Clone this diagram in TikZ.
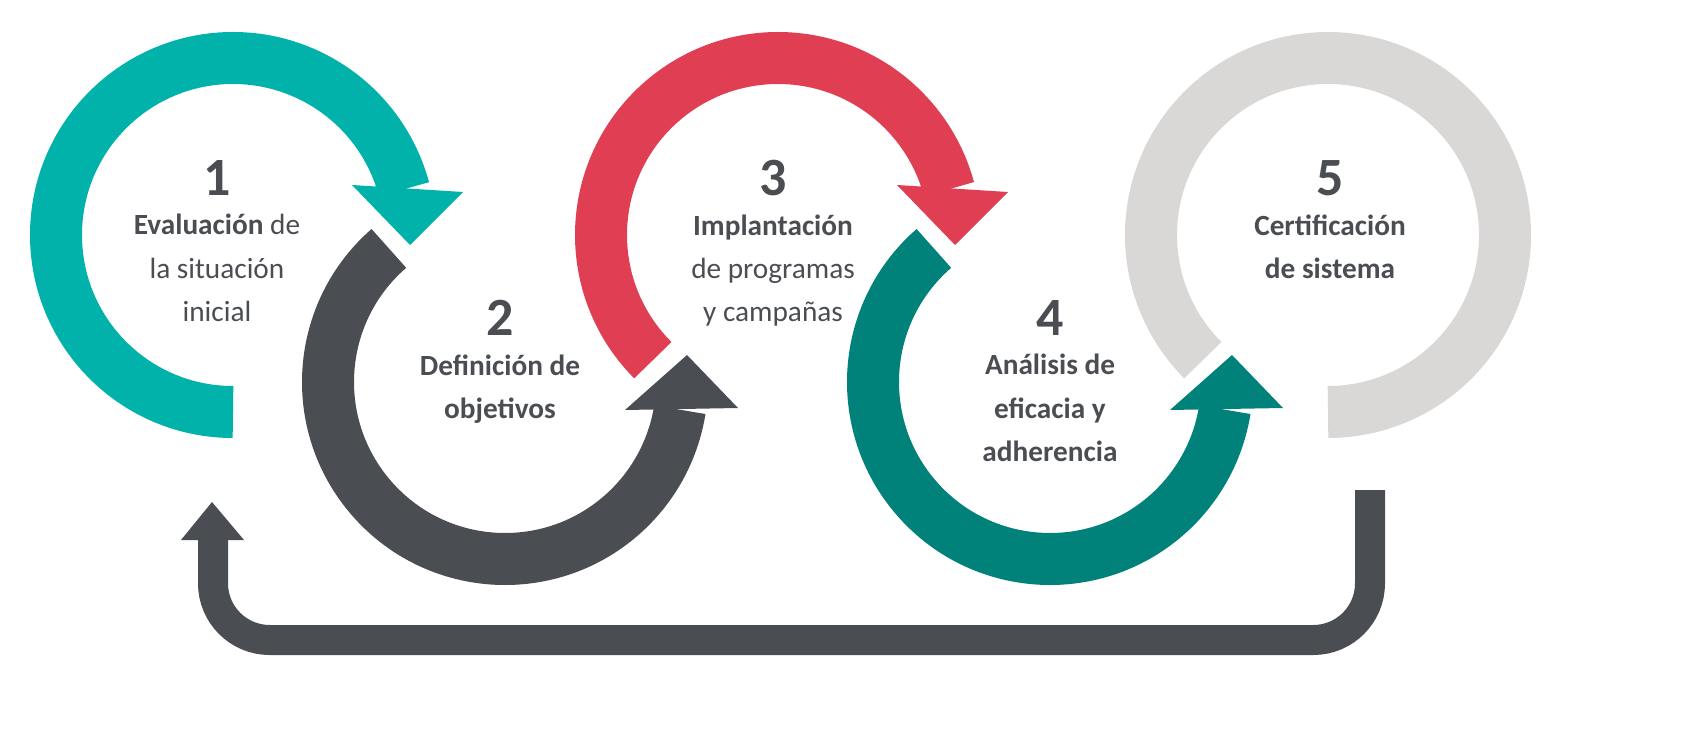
\documentclass[tikz,border=0pt]{standalone}
\usepackage{fontspec}
\setmainfont{Carlito}
\usetikzlibrary{positioning}
\definecolor{tealcolor}{HTML}{00B2A9}
\definecolor{darkcolor}{HTML}{4A4D52}
\definecolor{redcolor}{HTML}{E03E52}
\definecolor{greencolor}{HTML}{00827A}
\definecolor{lightcolor}{HTML}{D9D8D6}
\definecolor{textcolor}{HTML}{4A4D52}

\begin{document}
\begin{tikzpicture}[
	x=0.03cm, y=0.03cm,
	ring/.style={line width=1.56cm, line cap=butt},
	number/.style={text=textcolor, font=\fontsize{46}{50}\selectfont\bfseries, inner sep=0pt},
	steptext/.style={text=textcolor, font=\fontsize{25}{37}\selectfont, align=center, inner sep=0pt},
	boldtext/.style={steptext, font=\fontsize{25}{37}\selectfont\bfseries},
	node distance=0.55cm,
]
\useasboundingbox (0,0) rectangle (1699,744);
% #1 colour, #2 centre, #3 start angle, #4 end angle.
\def\ringarc#1(#2)#3#4{
	\draw[ring, #1] (#2) ++(#3:177) arc[start angle=#3, end angle=#4, radius=177];
}
% #1 colour, three corners of the head.
\def\arrowhead#1(#2)(#3)(#4){
	\fill[#1] (#2) -- (#3) -- (#4) -- cycle;
}
	\ringarc{tealcolor}(233,509){270}{15}
	\arrowhead{tealcolor}(352,559)(463,552)(410,499)
	\ringarc{darkcolor}(505,362){131}{351}
	\arrowhead{darkcolor}(625,334)(738,336)(687,389)
	\ringarc{redcolor}(778,509){225}{15}
	\arrowhead{redcolor}(897,559)(1008,552)(955,499)
	\ringarc{greencolor}(1050,362){131}{351}
	\arrowhead{greencolor}(1170,334)(1283,336)(1232,389)
	\ringarc{lightcolor}(1328,509){225}{-90}

	% return line
	\coordinate (retA) at (1370,254);
	\coordinate (retB) at (213,204);
	\draw[darkcolor, line width=0.9cm, rounded corners=1.7cm]
		(retA) -- (1370,104) -- (213,104) -- (retB);
	\arrowhead{darkcolor}(181,204)(244,204)(212,242)

	\node[number] (n1) at (217,566) {1};
	\node[steptext, below=of n1] (t1) {\textbf{Evaluación} de\\la situación\\inicial};
	\node[number] (n2) at (500,426) {2};
	\node[boldtext, below=of n2] (t2) {Definición de\\objetivos};
	\node[number] (n3) at (773,566) {3};
	\node[steptext, below=of n3] (t3) {\textbf{Implantación}\\de programas\\y campañas};
	\node[number] (n4) at (1050,426) {4};
	\node[boldtext, below=of n4] (t4) {Análisis de\\eficacia y\\adherencia};
	\node[number] (n5) at (1330,566) {5};
	\node[boldtext, below=of n5] (t5) {Certificación\\de sistema};
\end{tikzpicture}
\end{document}
